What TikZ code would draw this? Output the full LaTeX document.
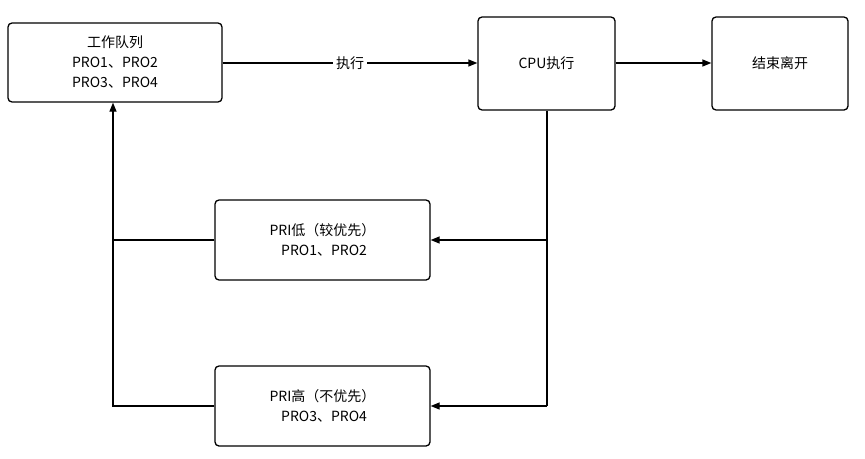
\documentclass[tikz,border=0pt]{standalone}
\usepackage{fontspec}
\setmainfont{Noto Sans CJK SC}
\usetikzlibrary{arrows.meta}
\begin{document}
\begin{tikzpicture}[x=1pt,y=-1pt,
  box/.style={draw,line width=1.3pt,rounded corners=4pt,align=center,inner sep=0pt,font=\fontsize{14}{20}\selectfont},
  arr/.style={line width=1.3pt,-{Triangle[length=9pt,width=7pt]}},
  ln/.style={line width=1.3pt}]
\useasboundingbox (0,0) rectangle (865,458);
\node[box,minimum width=214pt,minimum height=79pt] (q) at (115,62.5) {工作队列\\PRO1、PRO2\\PRO3、PRO4};
\node[box,minimum width=137pt,minimum height=93pt] (cpu) at (546.5,63.5) {CPU执行};
\node[box,minimum width=136pt,minimum height=93pt] (end) at (780,63.5) {结束离开};
\node[box,minimum width=215pt,minimum height=80pt] (lo) at (322.5,240) {PRI低（较优先）\\\ PRO1、PRO2};
\node[box,minimum width=215pt,minimum height=80pt] (hi) at (322.5,406) {PRI高（不优先）\\\ PRO3、PRO4};
\coordinate (c1) at (547,240);
\coordinate (c2) at (547,406);
\coordinate (l1) at (113,240);
\coordinate (l2) at (113,406);
\draw[arr] (q.east |- 0,63) -- node[fill=white,font=\fontsize{14}{16}\selectfont]{执行} (cpu.west |- 0,63);
\draw[arr] (cpu.east |- 0,63) -- (end.west |- 0,63);
\draw[ln] (cpu.south -| c1) -- (c2);
\draw[arr] (c1) -- (lo.east);
\draw[arr] (c2) -- (hi.east);
\draw[ln] (lo.west) -- (l1);
\draw[arr] (hi.west) -- (l2) -- (q.south -| l2);
\end{tikzpicture}
\end{document}
